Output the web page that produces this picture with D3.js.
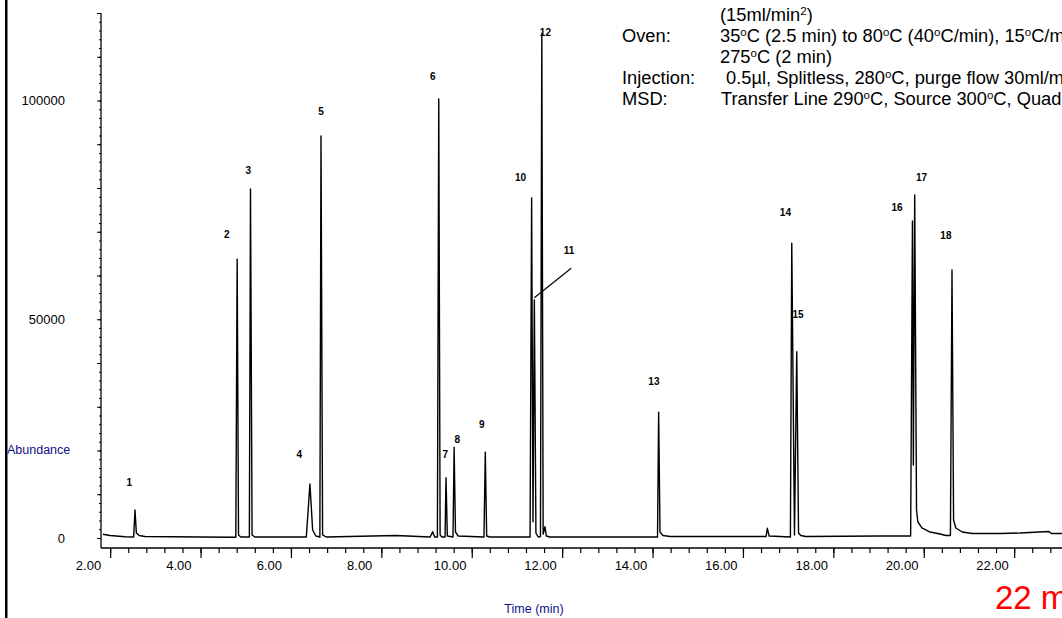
<!DOCTYPE html>
<html>
<head>
<meta charset="utf-8">
<script src="https://cdn.jsdelivr.net/npm/d3@7"></script>
<style>
body { margin: 0; background: #fff; }
svg { display: block; font-family: "Liberation Sans", Arial, Helvetica, sans-serif; }
</style>
</head>
<body>
<svg></svg>
<script>
"use strict";

// TIC trace: retention time (min) and abundance
var traceTime = [2.33, 2.49, 2.82, 3.01, 3.04, 3.07, 3.13, 3.26, 4.48,
  5.27, 5.30, 5.33, 5.38, 5.57, 5.595, 5.63, 5.69,
  6.83, 6.91, 6.97, 7.04, 7.13, 7.155, 7.19, 7.27, 8.81,
  9.57, 9.625, 9.67, 9.73, 9.76, 9.79, 9.83, 9.90, 9.92, 9.95,
  10.075, 10.10, 10.13, 10.19, 10.76, 10.79, 10.82, 10.89,
  11.78, 11.815, 11.845, 11.875, 11.91, 11.96, 12.01, 12.04, 12.07, 12.11, 12.14, 12.22,
  14.60, 14.625, 14.655, 14.72, 14.88, 17.00, 17.03, 17.07,
  17.54, 17.57, 17.63, 17.68, 17.72, 17.77, 17.88, 19.52,
  20.20, 20.24, 20.26, 20.29, 20.33, 20.36, 20.45, 20.63, 20.85, 20.98,
  21.08, 21.115, 21.15, 21.20, 21.34, 21.56, 22.18, 22.62, 23.26, 23.31, 23.55];
var traceAbund = [850, 570, 270, 230, 6400, 1140, 570, 340, 230,
  180, 63700, 690, 230, 230, 79770, 690, 230,
  230, 12340, 1830, 460, 230, 91890, 690, 230, 570,
  230, 1440, 230, 230, 100340, 690, 230, 230, 13780, 460,
  230, 20730, 1370, 460, 230, 19590, 460, 230,
  230, 77710, 3730, 54400, 1140, 230, 340, 115360, 910, 2580, 460, 230,
  230, 28730, 1370, 570, 340, 340, 2220, 460,
  230, 67360, 690, 42580, 1140, 570, 340, 460,
  460, 72460, 16690, 78400, 6400, 3660, 2290, 1370, 910, 570,
  570, 61260, 4110, 2290, 1370, 1030, 1030, 1140, 1490, 1030, 1030];

// peak numbering and where each number sits (time, abundance)
var peakIds = ["1", "2", "3", "4", "5", "6", "7", "8", "9", "10", "11", "12", "13", "14", "15", "16", "17", "18"];
var labelTime = [2.914, 5.069, 5.546, 6.675, 7.155, 9.626, 9.905, 10.17, 10.71,
  11.57, 12.64, 12.12, 14.52, 17.43, 17.71, 19.90, 20.44, 20.98];
var labelAbund = [12640, 69260, 84110, 19130, 97440, 105600, 19130, 22560, 25990,
  82290, 65670, 115590, 35820, 74450, 51040, 75590, 82450, 69100];
// leader from label 11 to its peak
var leaderTime = [12.69, 11.874];
var leaderAbund = [61650, 54930];

var xLabelTicks = [2, 4, 6, 8, 10, 12, 14, 16, 18, 20, 22];
var yLabelTicks = [0, 50000, 100000];

// method conditions, "^" marks a raised character
var noteKeys = ["", "Oven:", "", "Injection:", "MSD:"];
var noteValues = ["(15ml/min^2)",
  "35^oC (2.5 min) to 80^oC (40^oC/min), 15^oC/min",
  "275^oC (2 min)",
  "0.5\u00b5l, Splitless, 280^oC, purge flow 30ml/min",
  "Transfer Line 290^oC, Source 300^oC, Quad"];
var noteIndent = [0, 0, 0, 6, 1];

var width = 1062, height = 618;
var svg = d3.select("svg").attr("width", width).attr("height", height);

var x = d3.scaleLinear().domain([2, 22]).range([88, 992]);
var y = d3.scaleLinear().domain([0, 120000]).range([538, 13]);

var axisX = 101, axisY = 548;

// frame line on the far left
svg.append("rect").attr("x", 5).attr("y", 0).attr("width", 2.5).attr("height", height).attr("fill", "#000");

// y axis
var yAxisG = svg.append("g").attr("transform", "translate(" + axisX + ",0)");
yAxisG.append("g").call(d3.axisLeft(y).tickValues(d3.range(0, 120001, 2000)).tickSize(2).tickFormat(""));
yAxisG.append("g").call(d3.axisLeft(y).tickValues(d3.range(0, 120001, 10000)).tickSize(4).tickFormat(""));
yAxisG.append("g").call(d3.axisLeft(y).tickValues(yLabelTicks).tickSize(0).tickPadding(36).tickFormat(d3.format("d")))
  .selectAll("text").attr("font-size", 13).attr("font-family", null);
yAxisG.selectAll(".domain").remove();
yAxisG.selectAll("line").attr("stroke", "#000");
yAxisG.append("line").attr("x1", 0).attr("x2", 0).attr("y1", 13).attr("y2", axisY).attr("stroke", "#000").attr("stroke-width", 1.3);

// x axis; the printed tick marks sit about half a minute right of their labels
var tickShift = 0.49;
var xAxisG = svg.append("g").attr("transform", "translate(0," + axisY + ")");
xAxisG.append("g").call(d3.axisBottom(x).tickValues(d3.range(2 + tickShift, 23.6, 0.4)).tickSize(5).tickFormat(""));
xAxisG.append("g").call(d3.axisBottom(x).tickValues(d3.range(2 + tickShift, 23.6, 2)).tickSize(10).tickFormat(""));
xAxisG.append("g").call(d3.axisBottom(x).tickValues(xLabelTicks).tickSize(0).tickPadding(13).tickFormat(d3.format(".2f")))
  .selectAll("text").attr("font-size", 13).attr("font-family", null);
xAxisG.selectAll(".domain").remove();
xAxisG.selectAll("line").attr("stroke", "#000").attr("stroke-width", 1.2);
xAxisG.append("line").attr("x1", axisX).attr("x2", width).attr("y1", 0).attr("y2", 0).attr("stroke", "#000").attr("stroke-width", 1.3);

// axis titles
svg.append("text").attr("x", 7).attr("y", 454).attr("font-size", 12.5).attr("fill", "#10108a")
  .text("Abundance");
svg.append("text").attr("x", 534).attr("y", 613).attr("text-anchor", "middle").attr("font-size", 12.5).attr("fill", "#10108a")
  .text("Time (min)");

// chromatogram
var line = d3.line().x(function (d) { return x(d[0]); }).y(function (d) { return y(d[1]); });
svg.append("path").datum(d3.zip(traceTime, traceAbund))
  .attr("d", line).attr("fill", "none").attr("stroke", "#000").attr("stroke-width", 1.4)
  .attr("stroke-linejoin", "round");

// peak numbers
svg.append("g").selectAll("text").data(peakIds).enter().append("text")
  .attr("x", function (d, i) { return x(labelTime[i]); })
  .attr("y", function (d, i) { return y(labelAbund[i]); })
  .attr("text-anchor", "middle").attr("dominant-baseline", "central")
  .attr("font-size", 10).attr("font-weight", "bold")
  .text(function (d) { return d; });

svg.append("line")
  .attr("x1", x(leaderTime[0])).attr("y1", y(leaderAbund[0]))
  .attr("x2", x(leaderTime[1])).attr("y2", y(leaderAbund[1]))
  .attr("stroke", "#000").attr("stroke-width", 1.2);

// method notes, top right
function addRich(sel, str) {
  var parts = str.split(/\^(.)/);
  var back = 0;
  parts.forEach(function (p, i) {
    if (!p) return;
    if (i % 2 === 1) {
      sel.append("tspan").attr("dy", -6).attr("font-size", 11.5).text(p);
      back = 6;
    } else {
      sel.append("tspan").attr("dy", back || null).text(p);
      back = 0;
    }
  });
}
var notes = svg.append("g").attr("font-size", 18.3).attr("fill", "#000");
noteValues.forEach(function (v, i) {
  var by = 21 + i * 21;
  if (noteKeys[i]) notes.append("text").attr("x", 622).attr("y", by).text(noteKeys[i]);
  addRich(notes.append("text").attr("x", 720 + noteIndent[i]).attr("y", by), v);
});

// run time callout
svg.append("text").attr("x", 995).attr("y", 609).attr("font-size", 33).attr("fill", "#ff0000")
  .text("22 min");
</script>
</body>
</html>
